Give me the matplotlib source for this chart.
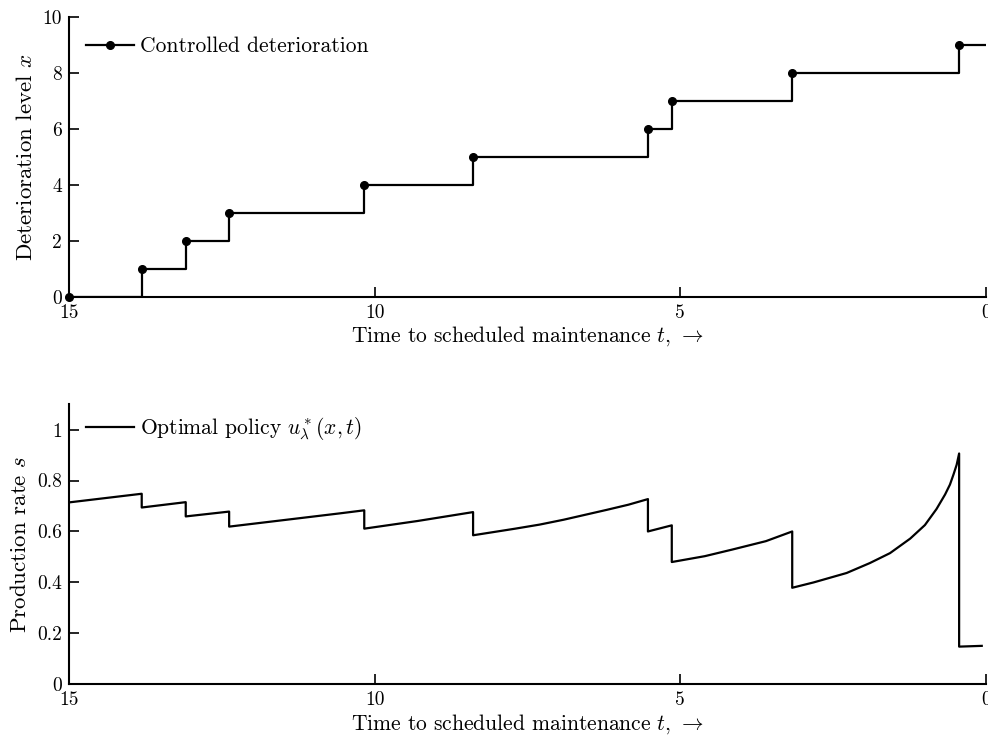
#!/usr/bin/env python3
"""
Controlled deterioration path and the optimal production policy,
plotted against the time left until scheduled maintenance.
"""

import matplotlib

matplotlib.use("Agg")

import matplotlib.pyplot as plt
from matplotlib.lines import Line2D
from matplotlib.ticker import FuncFormatter


# jump times of the deterioration process (time to maintenance, counts down)
JUMP_TIMES = [15.0, 13.81, 13.09, 12.38, 10.17, 8.39, 5.53, 5.14, 3.17, 0.44]
LEVELS = [0, 1, 2, 3, 4, 5, 6, 7, 8, 9]
END_TIME = 0.0

POLICY_T = [
    15.0, 13.81,
    13.81, 13.09,
    13.09, 12.38,
    12.38, 11.30, 10.57, 10.17,
    10.17, 9.30, 8.39,
    8.39, 7.70, 7.30, 6.91, 6.20, 5.85, 5.53,
    5.53, 5.14,
    5.14, 4.60, 4.15, 3.60, 3.17,
    3.17, 2.82, 2.28, 1.90, 1.57, 1.24, 1.00, 0.81, 0.67, 0.59, 0.53,
    0.48, 0.44,
    0.44, 0.07,
]
POLICY_S = [
    0.714, 0.748,
    0.694, 0.715,
    0.659, 0.678,
    0.619, 0.650, 0.671, 0.683,
    0.611, 0.641, 0.676,
    0.585, 0.611, 0.627, 0.646, 0.685, 0.705, 0.727,
    0.600, 0.624,
    0.480, 0.503, 0.529, 0.562, 0.600,
    0.379, 0.400, 0.437, 0.476, 0.515, 0.572, 0.625, 0.688, 0.745, 0.784, 0.825,
    0.862, 0.906,
    0.148, 0.151,
]

XTICKS = [15, 10, 5, 0]
TOP_YTICKS = [0, 2, 4, 6, 8, 10]
BOTTOM_YTICKS = [0, 0.2, 0.4, 0.6, 0.8, 1.0]

XLABEL = r"Time to scheduled maintenance $t$, $\rightarrow$"
LABEL_SIZE = 15.5
YLABEL_SIZE = 16.5


def style_axis(ax):
    ax.spines["top"].set_visible(False)
    ax.spines["right"].set_visible(False)
    ax.spines["left"].set_linewidth(1.5)
    ax.spines["bottom"].set_linewidth(1.5)
    ax.tick_params(direction="in", length=7, width=1.2, labelsize=14, pad=5)
    ax.set_xlim(15, 0)
    ax.set_xticks(XTICKS)
    ax.xaxis.set_major_formatter(FuncFormatter(lambda v, _: f"{v:g}"))
    ax.yaxis.set_major_formatter(FuncFormatter(lambda v, _: f"{v:g}"))
    ax.set_xlabel(XLABEL, fontsize=LABEL_SIZE, labelpad=2)


def main():
    plt.rcParams["font.family"] = "serif"
    plt.rcParams["font.serif"] = ["cmr10", "DejaVu Serif"]
    plt.rcParams["mathtext.fontset"] = "cm"
    plt.rcParams["axes.formatter.use_mathtext"] = True

    fig = plt.figure(figsize=(9.88, 7.36), dpi=100)
    ax_x = fig.add_axes([0.0698, 0.5965, 0.9282, 0.3805])
    ax_s = fig.add_axes([0.0698, 0.0702, 0.9282, 0.3808])

    # top: deterioration level as a staircase
    step_t = JUMP_TIMES + [END_TIME]
    step_x = LEVELS + [LEVELS[-1]]
    ax_x.step(step_t, step_x, where="post", color="black", lw=1.6)
    ax_x.plot(JUMP_TIMES, LEVELS, "o", color="black", ms=5.5, clip_on=False)
    style_axis(ax_x)
    ax_x.set_ylim(0, 10)
    ax_x.set_yticks(TOP_YTICKS)
    ax_x.set_ylabel(r"Deterioration level $x$", fontsize=YLABEL_SIZE, labelpad=5)
    handle = Line2D([], [], color="black", lw=1.6, marker="o", ms=5.5)
    ax_x.legend(
        [handle], ["Controlled deterioration"],
        loc="upper left", bbox_to_anchor=(0.0, 0.99), frameon=False,
        fontsize=LABEL_SIZE, handlelength=2.2, handletextpad=0.3, borderaxespad=0.4,
    )

    # bottom: optimal production rate
    ax_s.plot(POLICY_T, POLICY_S, color="black", lw=1.6)
    style_axis(ax_s)
    ax_s.set_ylim(0, 1.1)
    ax_s.set_yticks(BOTTOM_YTICKS)
    ax_s.set_ylabel(r"Production rate $s$", fontsize=YLABEL_SIZE, labelpad=5)
    ax_s.legend(
        [Line2D([], [], color="black", lw=1.6)],
        [r"Optimal policy $u_\lambda^*(x,t)$"],
        loc="upper left", bbox_to_anchor=(0.0, 1.02), frameon=False,
        fontsize=LABEL_SIZE, handlelength=2.2, handletextpad=0.3, borderaxespad=0.4,
    )

    fig.savefig("out.png", dpi=100)
    plt.close(fig)


if __name__ == "__main__":
    main()
